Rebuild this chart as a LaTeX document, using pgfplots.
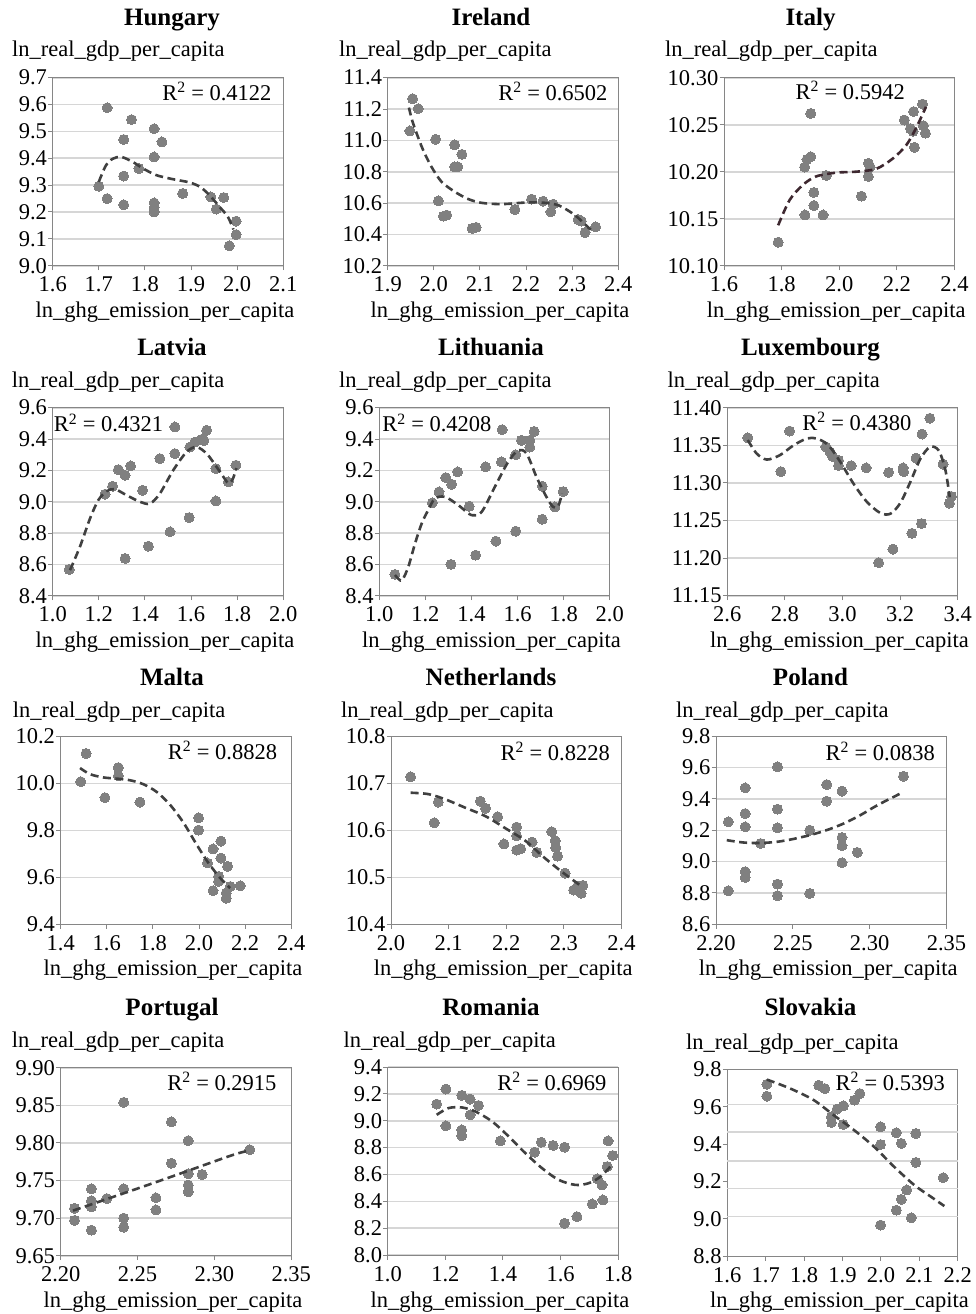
\documentclass[border=0pt]{standalone}
\usepackage{fontspec}
\setmainfont{Liberation Serif}
\usepackage{pgfplots}
\pgfplotsset{compat=1.18}
\definecolor{dotgray}{RGB}{128,128,128}
\definecolor{framegray}{RGB}{134,134,134}
\definecolor{gridgray}{RGB}{214,214,214}
\definecolor{trendgray}{RGB}{64,64,64}
\definecolor{trendital}{RGB}{62,40,48}
\newcommand\lf{\fontsize{22.5}{27}\selectfont}
\newcommand\tf{\fontsize{25}{30}\selectfont\bfseries}
\pgfplotsset{
  panel/.style={
    scale only axis, width=230.5pt, height=188pt, anchor=south west,
    axis line style={framegray, line width=1pt},
    tick align=outside, xtick pos=lower, ytick pos=left,
    major tick length=4.5pt,
    tick style={framegray, line width=1pt},
    ymajorgrids, grid style={gridgray, line width=1.6pt},
    scaled ticks=false,
    clip mode=individual,
    tick label style={font=\lf},
    /pgf/number format/assume math mode=true,
    xticklabel style={anchor=base, inner sep=0pt, yshift=-21.5pt},
    yticklabel style={anchor=east, inner sep=0pt, xshift=-1pt},
  },
  xp1/.style={xticklabel style={/pgf/number format/fixed, /pgf/number format/fixed zerofill, /pgf/number format/precision=1}},
  xp2/.style={xticklabel style={/pgf/number format/fixed, /pgf/number format/fixed zerofill, /pgf/number format/precision=2}},
  yp1/.style={yticklabel style={/pgf/number format/fixed, /pgf/number format/fixed zerofill, /pgf/number format/precision=1}},
  yp2/.style={yticklabel style={/pgf/number format/fixed, /pgf/number format/fixed zerofill, /pgf/number format/precision=2}},
  pts/.style={dotgray, only marks, mark=*, mark size=5pt, mark options={draw=dotgray, fill=dotgray, line width=0pt}},
  trd/.style={no marks, smooth, trendgray, line width=2.6pt, dash pattern=on 8pt off 4.5pt},
}
\begin{document}
\begin{tikzpicture}
\useasboundingbox (0,0) rectangle (975pt,-1314pt);

% ---------------- Hungary
\begin{axis}[panel, xp1, yp1, at={(52.7pt,-265.7pt)},
  xmin=1.6, xmax=2.1, ymin=9.0, ymax=9.7,
  xtick={1.6,1.7,1.8,1.9,2.0,2.1}, ytick={9.0,9.1,9.2,9.3,9.4,9.5,9.6,9.7}]
\addplot[pts] coordinates {(1.718,9.588)(1.771,9.544)(1.754,9.470)(1.820,9.510)(1.837,9.461)(1.820,9.405)(1.787,9.362)(1.754,9.334)(1.700,9.296)(1.718,9.250)(1.754,9.227)(1.820,9.234)(1.820,9.217)(1.820,9.200)(1.882,9.269)(1.943,9.256)(1.971,9.254)(1.955,9.211)(1.998,9.166)(1.998,9.116)(1.983,9.074)};
\addplot[trd] coordinates {(1.700,9.312)(1.715,9.372)(1.730,9.398)(1.749,9.405)(1.774,9.386)(1.796,9.362)(1.825,9.337)(1.861,9.322)(1.897,9.310)(1.920,9.293)(1.940,9.263)(1.962,9.219)(1.980,9.182)(1.992,9.135)};
\end{axis}

% ---------------- Ireland
\begin{axis}[panel, xp1, yp1, at={(387.7pt,-265.7pt)},
  xmin=1.9, xmax=2.4, ymin=10.2, ymax=11.4,
  xtick={1.9,2.0,2.1,2.2,2.3,2.4}, ytick={10.2,10.4,10.6,10.8,11.0,11.2,11.4}]
\addplot[pts] coordinates {(1.954,11.266)(1.966,11.202)(1.948,11.060)(2.004,11.007)(2.045,10.971)(2.061,10.911)(2.045,10.831)(2.052,10.831)(2.010,10.614)(2.021,10.516)(2.028,10.523)(2.083,10.438)(2.092,10.445)(2.176,10.559)(2.212,10.625)(2.237,10.612)(2.259,10.593)(2.254,10.544)(2.313,10.495)(2.320,10.485)(2.328,10.412)(2.351,10.448)};
\addplot[trd] coordinates {(1.946,11.209)(1.953,11.128)(1.963,11.043)(1.977,10.937)(1.995,10.831)(2.017,10.735)(2.046,10.671)(2.075,10.625)(2.104,10.601)(2.147,10.593)(2.198,10.603)(2.234,10.603)(2.270,10.586)(2.306,10.523)(2.335,10.444)(2.346,10.417)};
\end{axis}

% ---------------- Italy
\begin{axis}[panel, xp1, yp2, at={(724pt,-265.7pt)},
  xmin=1.6, xmax=2.4, ymin=10.10, ymax=10.30,
  xtick={1.6,1.8,2.0,2.2,2.4}, ytick={10.10,10.15,10.20,10.25,10.30}]
\addplot[pts] coordinates {(1.901,10.262)(1.880,10.205)(1.888,10.213)(1.901,10.216)(1.955,10.196)(1.912,10.178)(1.912,10.164)(1.881,10.154)(1.944,10.154)(1.788,10.125)(2.077,10.174)(2.101,10.209)(2.107,10.205)(2.101,10.195)(2.226,10.255)(2.258,10.264)(2.247,10.246)(2.256,10.243)(2.261,10.226)(2.289,10.272)(2.292,10.249)(2.299,10.241)};
\addplot[trd, trendital] coordinates {(1.788,10.143)(1.828,10.170)(1.874,10.186)(1.920,10.195)(1.990,10.199)(2.059,10.200)(2.128,10.203)(2.186,10.214)(2.232,10.228)(2.266,10.246)(2.301,10.269)};
\end{axis}

% ---------------- Latvia
\begin{axis}[panel, xp1, yp1, at={(52.7pt,-595.7pt)},
  xmin=1.0, xmax=2.0, ymin=8.4, ymax=9.6,
  xtick={1.0,1.2,1.4,1.6,1.8,2.0}, ytick={8.4,8.6,8.8,9.0,9.2,9.4,9.6}]
\addplot[pts] coordinates {(1.072,8.568)(1.227,9.048)(1.260,9.099)(1.285,9.205)(1.314,9.169)(1.338,9.228)(1.390,9.073)(1.314,8.638)(1.415,8.716)(1.465,9.275)(1.530,9.307)(1.530,9.477)(1.509,8.808)(1.592,8.899)(1.595,9.349)(1.617,9.381)(1.646,9.398)(1.656,9.390)(1.668,9.456)(1.708,9.005)(1.708,9.211)(1.762,9.126)(1.795,9.233)};
\addplot[trd] coordinates {(1.075,8.563)(1.118,8.712)(1.162,8.893)(1.198,9.010)(1.234,9.067)(1.270,9.080)(1.321,9.041)(1.379,8.999)(1.422,8.988)(1.465,9.052)(1.523,9.201)(1.581,9.318)(1.624,9.349)(1.668,9.307)(1.711,9.222)(1.740,9.160)(1.762,9.118)(1.780,9.140)(1.797,9.215)};
\end{axis}

% ---------------- Lithuania
\begin{axis}[panel, xp1, yp1, at={(379.3pt,-595.7pt)},
  xmin=1.0, xmax=2.0, ymin=8.4, ymax=9.6,
  xtick={1.0,1.2,1.4,1.6,1.8,2.0}, ytick={8.4,8.6,8.8,9.0,9.2,9.4,9.6}]
\addplot[pts] coordinates {(1.068,8.536)(1.230,8.993)(1.259,9.063)(1.288,9.154)(1.314,9.111)(1.340,9.190)(1.390,8.971)(1.311,8.600)(1.418,8.659)(1.461,9.222)(1.530,9.254)(1.533,9.460)(1.506,8.748)(1.592,8.812)(1.592,9.300)(1.617,9.392)(1.653,9.392)(1.653,9.349)(1.672,9.449)(1.707,9.099)(1.707,8.888)(1.762,8.967)(1.798,9.065)};
\addplot[trd] coordinates {(1.068,8.532)(1.085,8.505)(1.100,8.500)(1.126,8.585)(1.155,8.733)(1.184,8.861)(1.212,8.946)(1.241,9.020)(1.285,9.031)(1.343,8.978)(1.400,8.914)(1.444,8.935)(1.501,9.094)(1.559,9.254)(1.603,9.328)(1.639,9.307)(1.682,9.158)(1.725,9.031)(1.754,8.967)(1.776,8.971)(1.793,9.052)};
\end{axis}

% ---------------- Luxembourg
\begin{axis}[panel, xp1, yp2, at={(727.3pt,-595.7pt)},
  xmin=2.6, xmax=3.4, ymin=11.15, ymax=11.40,
  xtick={2.6,2.8,3.0,3.2,3.4}, ytick={11.15,11.20,11.25,11.30,11.35,11.40}]
\addplot[pts] coordinates {(2.671,11.360)(2.786,11.315)(2.816,11.369)(2.942,11.348)(2.957,11.341)(2.966,11.335)(2.986,11.330)(2.986,11.323)(3.030,11.323)(3.082,11.320)(3.160,11.314)(3.210,11.320)(3.212,11.315)(3.255,11.333)(3.276,11.365)(3.303,11.386)(3.349,11.325)(3.371,11.273)(3.378,11.282)(3.125,11.194)(3.175,11.212)(3.241,11.233)(3.274,11.246)};
\addplot[trd] coordinates {(2.671,11.357)(2.702,11.339)(2.737,11.331)(2.783,11.337)(2.830,11.350)(2.876,11.359)(2.911,11.359)(2.951,11.350)(2.992,11.328)(3.038,11.299)(3.084,11.275)(3.131,11.260)(3.166,11.259)(3.200,11.273)(3.235,11.301)(3.270,11.332)(3.304,11.348)(3.334,11.343)(3.357,11.317)(3.372,11.281)};
\end{axis}

% ---------------- Malta
\begin{axis}[panel, xp1, yp1, at={(60.7pt,-924.3pt)},
  xmin=1.4, xmax=2.4, ymin=9.4, ymax=10.2,
  xtick={1.4,1.6,1.8,2.0,2.2,2.4}, ytick={9.4,9.6,9.8,10.0,10.2}]
\addplot[pts] coordinates {(1.510,10.127)(1.487,10.007)(1.650,10.067)(1.650,10.032)(1.592,9.939)(1.744,9.920)(1.998,9.853)(1.998,9.801)(2.037,9.661)(2.061,9.721)(2.095,9.754)(2.095,9.682)(2.085,9.604)(2.085,9.583)(2.061,9.543)(2.124,9.647)(2.136,9.561)(2.118,9.533)(2.118,9.511)(2.179,9.564)};
\addplot[trd] coordinates {(1.484,10.065)(1.527,10.039)(1.585,10.025)(1.643,10.020)(1.701,10.013)(1.759,9.996)(1.817,9.963)(1.875,9.908)(1.933,9.832)(1.990,9.739)(2.041,9.661)(2.092,9.597)(2.135,9.554)};
\end{axis}

% ---------------- Netherlands
\begin{axis}[panel, xp1, yp1, at={(391pt,-924.3pt)},
  xmin=2.0, xmax=2.4, ymin=10.4, ymax=10.8,
  xtick={2.0,2.1,2.2,2.3,2.4}, ytick={10.4,10.5,10.6,10.7,10.8}]
\addplot[pts] coordinates {(2.034,10.714)(2.082,10.660)(2.075,10.616)(2.155,10.662)(2.164,10.647)(2.185,10.629)(2.196,10.571)(2.218,10.607)(2.218,10.588)(2.218,10.558)(2.225,10.561)(2.245,10.575)(2.253,10.553)(2.279,10.597)(2.285,10.578)(2.286,10.563)(2.289,10.545)(2.302,10.509)(2.317,10.473)(2.324,10.481)(2.333,10.483)(2.330,10.466)};
\addplot[trd] coordinates {(2.034,10.680)(2.065,10.677)(2.094,10.666)(2.129,10.648)(2.164,10.630)(2.199,10.604)(2.234,10.577)(2.263,10.545)(2.292,10.516)(2.327,10.484)};
\end{axis}

% ---------------- Poland
\begin{axis}[panel, xp2, yp1, at={(716pt,-924.3pt)},
  xmin=2.20, xmax=2.35, ymin=8.6, ymax=9.8,
  xtick={2.20,2.25,2.30,2.35}, ytick={8.6,8.8,9.0,9.2,9.4,9.6,9.8}]
\addplot[pts] coordinates {(2.208,9.254)(2.208,8.814)(2.219,9.471)(2.219,9.307)(2.219,9.222)(2.219,8.936)(2.219,8.899)(2.229,9.116)(2.240,9.605)(2.240,9.335)(2.240,9.216)(2.240,8.857)(2.240,8.783)(2.261,9.201)(2.261,8.797)(2.272,9.492)(2.272,9.386)(2.282,9.450)(2.282,9.154)(2.282,9.101)(2.282,8.993)(2.292,9.059)(2.322,9.545)};
\addplot[trd] coordinates {(2.207,9.137)(2.218,9.122)(2.229,9.119)(2.240,9.127)(2.250,9.144)(2.261,9.169)(2.272,9.201)(2.283,9.243)(2.294,9.297)(2.305,9.360)(2.320,9.435)};
\end{axis}

% ---------------- Portugal
\begin{axis}[panel, xp2, yp2, at={(60.7pt,-1255.7pt)},
  xmin=2.20, xmax=2.35, ymin=9.65, ymax=9.90,
  xtick={2.20,2.25,2.30,2.35}, ytick={9.65,9.70,9.75,9.80,9.85,9.90}]
\addplot[pts] coordinates {(2.209,9.713)(2.209,9.697)(2.220,9.739)(2.220,9.723)(2.220,9.715)(2.220,9.684)(2.230,9.726)(2.241,9.854)(2.241,9.739)(2.241,9.700)(2.241,9.688)(2.262,9.727)(2.262,9.711)(2.272,9.828)(2.272,9.773)(2.283,9.803)(2.283,9.759)(2.283,9.744)(2.283,9.735)(2.292,9.758)(2.323,9.791)};
\addplot[trd] coordinates {(2.208,9.710)(2.241,9.733)(2.265,9.750)(2.283,9.763)(2.312,9.784)(2.323,9.790)};
\end{axis}

% ---------------- Romania
\begin{axis}[panel, xp1, yp1, at={(387.7pt,-1255pt)},
  xmin=1.0, xmax=1.8, ymin=8.0, ymax=9.4,
  xtick={1.0,1.2,1.4,1.6,1.8}, ytick={8.0,8.2,8.4,8.6,8.8,9.0,9.2,9.4}]
\addplot[pts] coordinates {(1.170,9.124)(1.202,9.236)(1.202,8.962)(1.257,9.189)(1.257,8.932)(1.257,8.888)(1.286,9.161)(1.286,9.044)(1.315,9.114)(1.391,8.850)(1.510,8.766)(1.533,8.840)(1.574,8.816)(1.614,8.803)(1.614,8.236)(1.657,8.286)(1.710,8.380)(1.727,8.567)(1.744,8.522)(1.747,8.410)(1.762,8.659)(1.765,8.850)(1.781,8.741)};
\addplot[trd] coordinates {(1.170,9.044)(1.211,9.094)(1.257,9.099)(1.304,9.069)(1.362,8.995)(1.420,8.883)(1.478,8.758)(1.536,8.646)(1.594,8.559)(1.652,8.522)(1.698,8.535)(1.739,8.584)(1.773,8.659)};
\end{axis}

% ---------------- Slovakia (grid lines off the tick positions, as in the reference)
\begin{axis}[panel, xp1, yp1, at={(727.3pt,-1256pt)}, height=186.5pt,
  ymajorgrids=false,
  xmin=1.6, xmax=2.2, ymin=8.8, ymax=9.8,
  xtick={1.6,1.7,1.8,1.9,2.0,2.1,2.2}, ytick={8.8,9.0,9.2,9.4,9.6,9.8},
  extra y ticks={9.011,9.161,9.311,9.466,9.612}, extra y tick labels={},
  extra y tick style={ymajorgrids=true, major tick length=0pt}]
\addplot[pts] coordinates {(1.703,9.721)(1.703,9.657)(1.838,9.716)(1.854,9.698)(1.871,9.546)(1.871,9.516)(1.886,9.588)(1.902,9.605)(1.902,9.505)(1.931,9.636)(1.945,9.671)(1.999,9.493)(1.999,9.398)(1.999,8.966)(2.040,9.461)(2.053,9.404)(2.091,9.457)(2.091,9.302)(2.067,9.154)(2.053,9.104)(2.040,9.046)(2.079,9.005)(2.162,9.220)};
\addplot[trd] coordinates {(1.703,9.746)(1.764,9.698)(1.825,9.636)(1.877,9.555)(1.930,9.475)(1.982,9.386)(2.034,9.279)(2.087,9.180)(2.130,9.118)(2.165,9.068)};
\end{axis}

% ---------------- titles
\begin{scope}[every node/.style={inner sep=0pt}]
\node[anchor=base, font=\tf] at (172pt,-25.7pt) {Hungary};
\node[anchor=base, font=\tf] at (491pt,-25.7pt) {Ireland};
\node[anchor=base, font=\tf] at (810.5pt,-25.7pt) {Italy};
\node[anchor=base, font=\tf] at (172pt,-355.7pt) {Latvia};
\node[anchor=base, font=\tf] at (491pt,-355.7pt) {Lithuania};
\node[anchor=base, font=\tf] at (810.5pt,-355.7pt) {Luxembourg};
\node[anchor=base, font=\tf] at (172pt,-685.7pt) {Malta};
\node[anchor=base, font=\tf] at (491pt,-685.7pt) {Netherlands};
\node[anchor=base, font=\tf] at (810.5pt,-685.7pt) {Poland};
\node[anchor=base, font=\tf] at (172pt,-1015pt) {Portugal};
\node[anchor=base, font=\tf] at (491pt,-1015pt) {Romania};
\node[anchor=base, font=\tf] at (810.5pt,-1015pt) {Slovakia};
% y labels
\node[anchor=base west, font=\lf] at (12pt,-57pt) {ln\_real\_gdp\_per\_capita};
\node[anchor=base west, font=\lf] at (339pt,-57pt) {ln\_real\_gdp\_per\_capita};
\node[anchor=base west, font=\lf] at (665pt,-57pt) {ln\_real\_gdp\_per\_capita};
\node[anchor=base west, font=\lf] at (11.7pt,-387pt) {ln\_real\_gdp\_per\_capita};
\node[anchor=base west, font=\lf] at (339pt,-387pt) {ln\_real\_gdp\_per\_capita};
\node[anchor=base west, font=\lf] at (667.3pt,-387pt) {ln\_real\_gdp\_per\_capita};
\node[anchor=base west, font=\lf] at (12.7pt,-717pt) {ln\_real\_gdp\_per\_capita};
\node[anchor=base west, font=\lf] at (341pt,-717pt) {ln\_real\_gdp\_per\_capita};
\node[anchor=base west, font=\lf] at (676pt,-717.5pt) {ln\_real\_gdp\_per\_capita};
\node[anchor=base west, font=\lf] at (11.7pt,-1047pt) {ln\_real\_gdp\_per\_capita};
\node[anchor=base west, font=\lf] at (343.3pt,-1047pt) {ln\_real\_gdp\_per\_capita};
\node[anchor=base west, font=\lf] at (686pt,-1049pt) {ln\_real\_gdp\_per\_capita};
% x labels
\node[anchor=base, font=\lf] at (165pt,-317.2pt) {ln\_ghg\_emission\_per\_capita};
\node[anchor=base, font=\lf] at (500pt,-317.2pt) {ln\_ghg\_emission\_per\_capita};
\node[anchor=base, font=\lf] at (836.2pt,-317.2pt) {ln\_ghg\_emission\_per\_capita};
\node[anchor=base, font=\lf] at (165pt,-647.2pt) {ln\_ghg\_emission\_per\_capita};
\node[anchor=base, font=\lf] at (491.5pt,-647.2pt) {ln\_ghg\_emission\_per\_capita};
\node[anchor=base, font=\lf] at (839.5pt,-647.2pt) {ln\_ghg\_emission\_per\_capita};
\node[anchor=base, font=\lf] at (173pt,-975.8pt) {ln\_ghg\_emission\_per\_capita};
\node[anchor=base, font=\lf] at (503.2pt,-975.8pt) {ln\_ghg\_emission\_per\_capita};
\node[anchor=base, font=\lf] at (828.2pt,-975.8pt) {ln\_ghg\_emission\_per\_capita};
\node[anchor=base, font=\lf] at (173pt,-1307.2pt) {ln\_ghg\_emission\_per\_capita};
\node[anchor=base, font=\lf] at (500pt,-1307.2pt) {ln\_ghg\_emission\_per\_capita};
\node[anchor=base, font=\lf] at (839.5pt,-1307.5pt) {ln\_ghg\_emission\_per\_capita};
% R^2
\node[anchor=base east, font=\lf] at (271.7pt,-100pt) {R\textsuperscript{2} = 0.4122};
\node[anchor=base east, font=\lf] at (607.7pt,-100pt) {R\textsuperscript{2} = 0.6502};
\node[anchor=base east, font=\lf] at (905pt,-99.3pt) {R\textsuperscript{2} = 0.5942};
\node[anchor=base east, font=\lf] at (163.3pt,-431.7pt) {R\textsuperscript{2} = 0.4321};
\node[anchor=base east, font=\lf] at (491.7pt,-431.7pt) {R\textsuperscript{2} = 0.4208};
\node[anchor=base east, font=\lf] at (911.7pt,-430pt) {R\textsuperscript{2} = 0.4380};
\node[anchor=base east, font=\lf] at (277.3pt,-759.3pt) {R\textsuperscript{2} = 0.8828};
\node[anchor=base east, font=\lf] at (610pt,-760pt) {R\textsuperscript{2} = 0.8228};
\node[anchor=base east, font=\lf] at (935pt,-760pt) {R\textsuperscript{2} = 0.0838};
\node[anchor=base east, font=\lf] at (276.7pt,-1090pt) {R\textsuperscript{2} = 0.2915};
\node[anchor=base east, font=\lf] at (606.7pt,-1090pt) {R\textsuperscript{2} = 0.6969};
\node[anchor=base east, font=\lf] at (945pt,-1090pt) {R\textsuperscript{2} = 0.5393};
\end{scope}
\end{tikzpicture}
\end{document}
